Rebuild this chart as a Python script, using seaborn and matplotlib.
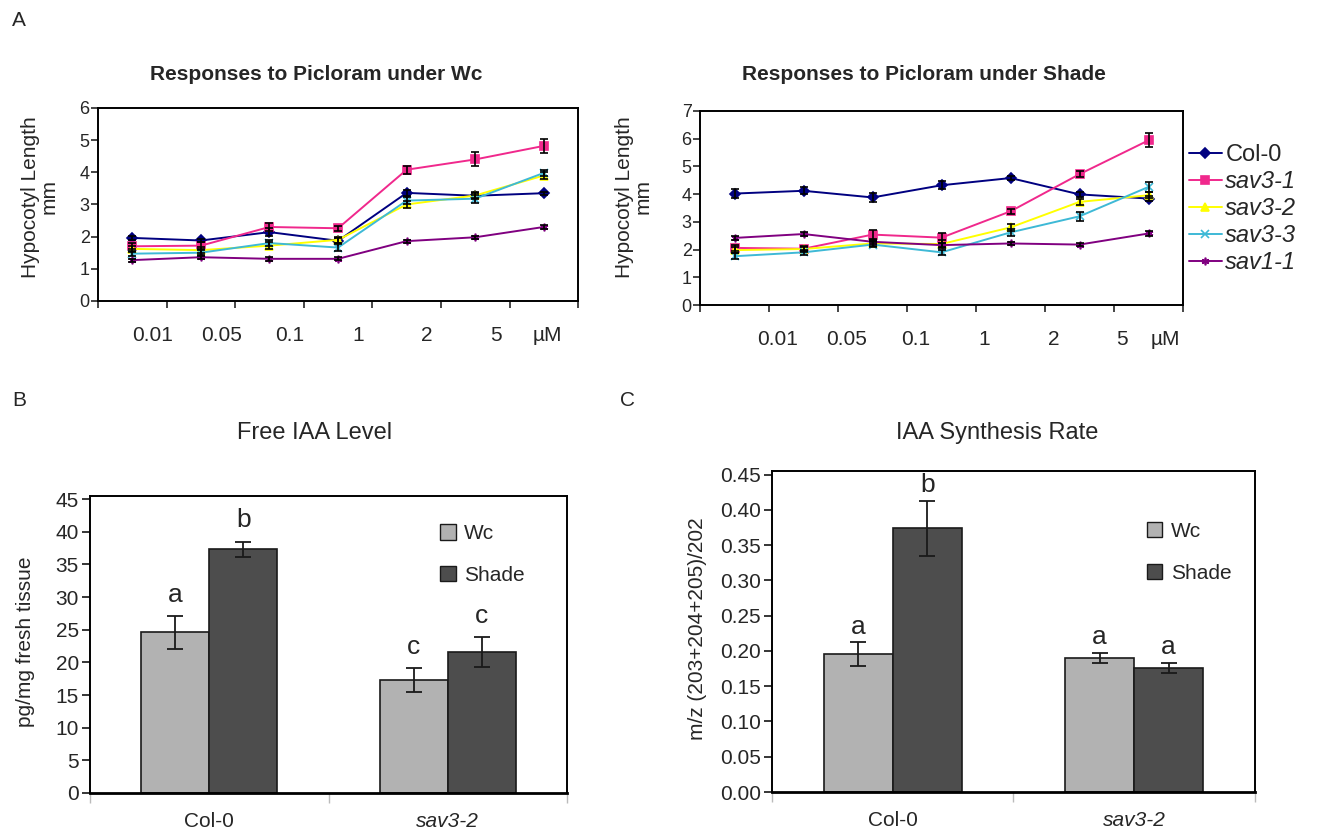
import numpy as np
import pandas as pd
import matplotlib
matplotlib.use('Agg')
import matplotlib.pyplot as plt
from matplotlib.patches import Patch
import seaborn as sns

sns.set_style('white')
plt.rcParams['font.family'] = ['Liberation Sans', 'DejaVu Sans']

# ---------------------------------------------------------------- data
conc = ['0', '0.01', '0.05', '0.1', '1', '2', '5']
lines = ['Col-0', 'sav3-1', 'sav3-2', 'sav3-3', 'sav1-1']

wc_col0 = [1.96, 1.88, 2.14, 1.87, 3.36, 3.27, 3.35]
wc_sav31 = [1.70, 1.72, 2.30, 2.26, 4.08, 4.40, 4.82]
wc_sav32 = [1.62, 1.58, 1.72, 1.90, 3.00, 3.28, 3.90]
wc_sav33 = [1.47, 1.50, 1.80, 1.66, 3.12, 3.18, 3.98]
wc_sav11 = [1.27, 1.36, 1.31, 1.31, 1.86, 1.98, 2.30]

wc_col0_err = [0.05, 0.05, 0.12, 0.08, 0.10, 0.08, 0.05]
wc_sav31_err = [0.10, 0.10, 0.12, 0.08, 0.12, 0.22, 0.22]
wc_sav32_err = [0.10, 0.10, 0.12, 0.10, 0.10, 0.10, 0.12]
wc_sav33_err = [0.08, 0.08, 0.10, 0.10, 0.12, 0.12, 0.10]
wc_sav11_err = [0.05, 0.05, 0.06, 0.05, 0.05, 0.05, 0.05]

sh_col0 = [4.02, 4.12, 3.88, 4.32, 4.58, 3.99, 3.84]
sh_sav31 = [2.06, 2.03, 2.54, 2.43, 3.38, 4.72, 5.94]
sh_sav32 = [1.98, 2.02, 2.22, 2.20, 2.80, 3.72, 3.96]
sh_sav33 = [1.76, 1.90, 2.18, 1.90, 2.62, 3.20, 4.26]
sh_sav11 = [2.42, 2.56, 2.28, 2.16, 2.22, 2.18, 2.58]

sh_col0_err = [0.15, 0.12, 0.15, 0.15, 0.08, 0.08, 0.10]
sh_sav31_err = [0.10, 0.08, 0.15, 0.18, 0.10, 0.10, 0.25]
sh_sav32_err = [0.10, 0.10, 0.10, 0.15, 0.12, 0.12, 0.10]
sh_sav33_err = [0.10, 0.08, 0.10, 0.10, 0.12, 0.17, 0.18]
sh_sav11_err = [0.08, 0.08, 0.08, 0.08, 0.05, 0.05, 0.08]

genotypes = ['Col-0', 'sav3-2']
lights = ['Wc', 'Shade']
iaa_wc = [24.6, 17.3]
iaa_wc_err = [2.5, 1.8]
iaa_shade = [37.3, 21.6]
iaa_shade_err = [1.2, 2.3]
iaa_letters_wc = ['a', 'c']
iaa_letters_shade = ['b', 'c']

syn_wc = [0.195, 0.190]
syn_wc_err = [0.017, 0.0075]
syn_shade = [0.374, 0.176]
syn_shade_err = [0.039, 0.0075]
syn_letters_wc = ['a', 'a']
syn_letters_shade = ['b', 'a']

# ---------------------------------------------------------------- style
line_colors = {'Col-0': '#000080', 'sav3-1': '#F0288C', 'sav3-2': '#FFFF00',
               'sav3-3': '#3EB9D6', 'sav1-1': '#800080'}
line_markers = {'Col-0': 'D', 'sav3-1': 's', 'sav3-2': '^',
                'sav3-3': 'x', 'sav1-1': (6, 2, 0)}
bar_colors = {'Wc': '#B2B2B2', 'Shade': '#4D4D4D'}

fig = plt.figure(figsize=(13.36, 8.4), dpi=100)
axA1 = fig.add_axes([0.0734, 0.6417, 0.3593, 0.2298])
axA2 = fig.add_axes([0.5240, 0.6369, 0.3615, 0.2310])
axB = fig.add_axes([0.0674, 0.0560, 0.3570, 0.3536])
axC = fig.add_axes([0.5778, 0.0571, 0.3615, 0.3821])


def line_panel(ax, values, errors, ymax, shift, um_pos, ylab_x, ylab_y):
    pos = list(range(len(conc)))
    for name, v in zip(lines, values):
        sns.lineplot(x=pos, y=v, color=line_colors[name], marker=line_markers[name],
                     markersize=5.5, linewidth=1.4, ax=ax)
    for ln in ax.lines:
        ln.set_markeredgecolor(ln.get_color())
        ln.set_markeredgewidth(1.2)
    for v, e in zip(values, errors):
        ax.errorbar(pos, v, yerr=e, fmt='none', ecolor='black',
                    elinewidth=1.2, capsize=3, capthick=1.2, zorder=5)
    ax.set_xlim(-0.5, len(conc) - 0.5)
    ax.set_ylim(0, ymax)
    ax.set_xticks(np.arange(-0.5, len(conc), 1))
    ax.set_xticklabels([])
    ax.set_yticks(range(0, ymax + 1))
    ax.tick_params(axis='both', direction='out', length=5, width=1.2,
                   labelsize=13, pad=1, bottom=True, left=True)
    for s in ax.spines.values():
        s.set_color('black')
        s.set_linewidth(1.4)
    ax.set_xlabel('')
    ax.set_ylabel('')
    tr = ax.get_xaxis_transform()
    for i, lab in enumerate(conc[1:]):
        ax.text(i + 0.5 + shift, -0.18, lab, transform=tr, ha='center',
                va='center', fontsize=15)
    ax.text(um_pos, -0.18, 'µM', transform=tr, ha='center', va='center', fontsize=15)
    ax.text(ylab_x, ylab_y, 'Hypocotyl Length\nmm', transform=ax.transAxes,
            rotation=90, ha='center', va='center', fontsize=15,
            multialignment='center', linespacing=1.0)


line_panel(axA1, [wc_col0, wc_sav31, wc_sav32, wc_sav33, wc_sav11],
           [wc_col0_err, wc_sav31_err, wc_sav32_err, wc_sav33_err, wc_sav11_err],
           6, -0.2, 6.05, -0.121, 0.54)
line_panel(axA2, [sh_col0, sh_sav31, sh_sav32, sh_sav33, sh_sav11],
           [sh_col0_err, sh_sav31_err, sh_sav32_err, sh_sav33_err, sh_sav11_err],
           7, 0.12, 6.24, -0.137, 0.557)

leg = axA2.legend(axA2.lines[:len(lines)], lines, loc='upper left',
                  bbox_to_anchor=(1.012, 0.83), frameon=False, fontsize=17,
                  handlelength=1.4, handletextpad=0.15, labelspacing=0.17,
                  borderpad=0, borderaxespad=0)
for t in leg.get_texts()[1:]:
    t.set_fontstyle('italic')


def bar_panel(ax, wc, wc_err, sh, sh_err, let_wc, let_sh, off, ymax, step,
              fmt, ylabel, leg_xy, ylab_x):
    df = pd.DataFrame({'genotype': genotypes * 2,
                       'light': [lights[0]] * 2 + [lights[1]] * 2,
                       'value': wc + sh})
    sns.barplot(data=df, x='genotype', y='value', hue='light', palette=bar_colors,
                width=0.572, edgecolor='#1a1a1a', linewidth=1.2, errorbar=None,
                legend=False, saturation=1, ax=ax)
    for cont, err, lets in zip(ax.containers, [wc_err, sh_err], [let_wc, let_sh]):
        xs = [p.get_x() + p.get_width() / 2 for p in cont]
        hs = [p.get_height() for p in cont]
        ax.errorbar(xs, hs, yerr=err, fmt='none', ecolor='#1a1a1a',
                    elinewidth=1.3, capsize=6, capthick=1.3, zorder=5)
        for x, h, e, l in zip(xs, hs, err, lets):
            ax.text(x, h + e + off, l, ha='center', va='baseline', fontsize=19)
    ax.set_xlim(-0.5, 1.5)
    ax.set_ylim(0, ymax * 1.011)
    ax.set_yticks(np.arange(0, ymax + step / 2, step))
    ax.set_yticklabels([fmt.format(v) for v in np.arange(0, ymax + step / 2, step)])
    ax.set_xticks([-0.5, 0.5, 1.5], minor=True)
    ax.tick_params(axis='x', which='major', length=0, pad=14, labelsize=15)
    ax.tick_params(axis='x', which='minor', direction='out', length=7,
                   width=1, color='#BBBBBB', bottom=True)
    ax.tick_params(axis='y', direction='out', length=6, width=1.3,
                   labelsize=15, pad=2, left=True)
    ax.get_xticklabels()[1].set_fontstyle('italic')
    for s in ax.spines.values():
        s.set_color('black')
        s.set_linewidth(1.4)
    ax.spines['bottom'].set_linewidth(2)
    ax.set_xlabel('')
    ax.set_ylabel('')
    ax.text(ylab_x, 0.51, ylabel, transform=ax.transAxes, rotation=90,
            ha='center', va='center', fontsize=15)
    handles = [Patch(facecolor=bar_colors[l], edgecolor='#1a1a1a', linewidth=1) for l in lights]
    ax.legend(handles, lights, loc='upper left', bbox_to_anchor=leg_xy,
              frameon=False, fontsize=15, handlelength=0.75, handleheight=0.75,
              handletextpad=0.4, labelspacing=1.1, borderpad=0, borderaxespad=0)


bar_panel(axB, iaa_wc, iaa_wc_err, iaa_shade, iaa_shade_err,
          iaa_letters_wc, iaa_letters_shade, 2.2, 45, 5, '{:.0f}',
          'pg/mg fresh tissue', (0.734, 0.905), -0.136)
bar_panel(axC, syn_wc, syn_wc_err, syn_shade, syn_shade_err,
          syn_letters_wc, syn_letters_shade, 0.012, 0.45, 0.05, '{:.2f}',
          'm/z (203+204+205)/202', (0.776, 0.842), -0.155)

# panel titles
W, H = 1336, 840
fig.text(316 / W, 1 - 75 / H, 'Responses to Picloram under Wc', ha='center',
         va='center', fontsize=15, fontweight='bold')
fig.text(924 / W, 1 - 75 / H, 'Responses to Picloram under Shade', ha='center',
         va='center', fontsize=15, fontweight='bold')
fig.text(315 / W, 1 - 433 / H, 'Free IAA Level', ha='center', va='center', fontsize=17)
fig.text(997 / W, 1 - 433 / H, 'IAA Synthesis Rate', ha='center', va='center', fontsize=17)

fig.text(0.009, 1 - 20 / H, 'A', fontsize=15, va='center')
fig.text(0.009, 1 - 400 / H, 'B', fontsize=15, va='center')
fig.text(0.464, 1 - 400 / H, 'C', fontsize=15, va='center')

fig.savefig('out.png', dpi=100)
